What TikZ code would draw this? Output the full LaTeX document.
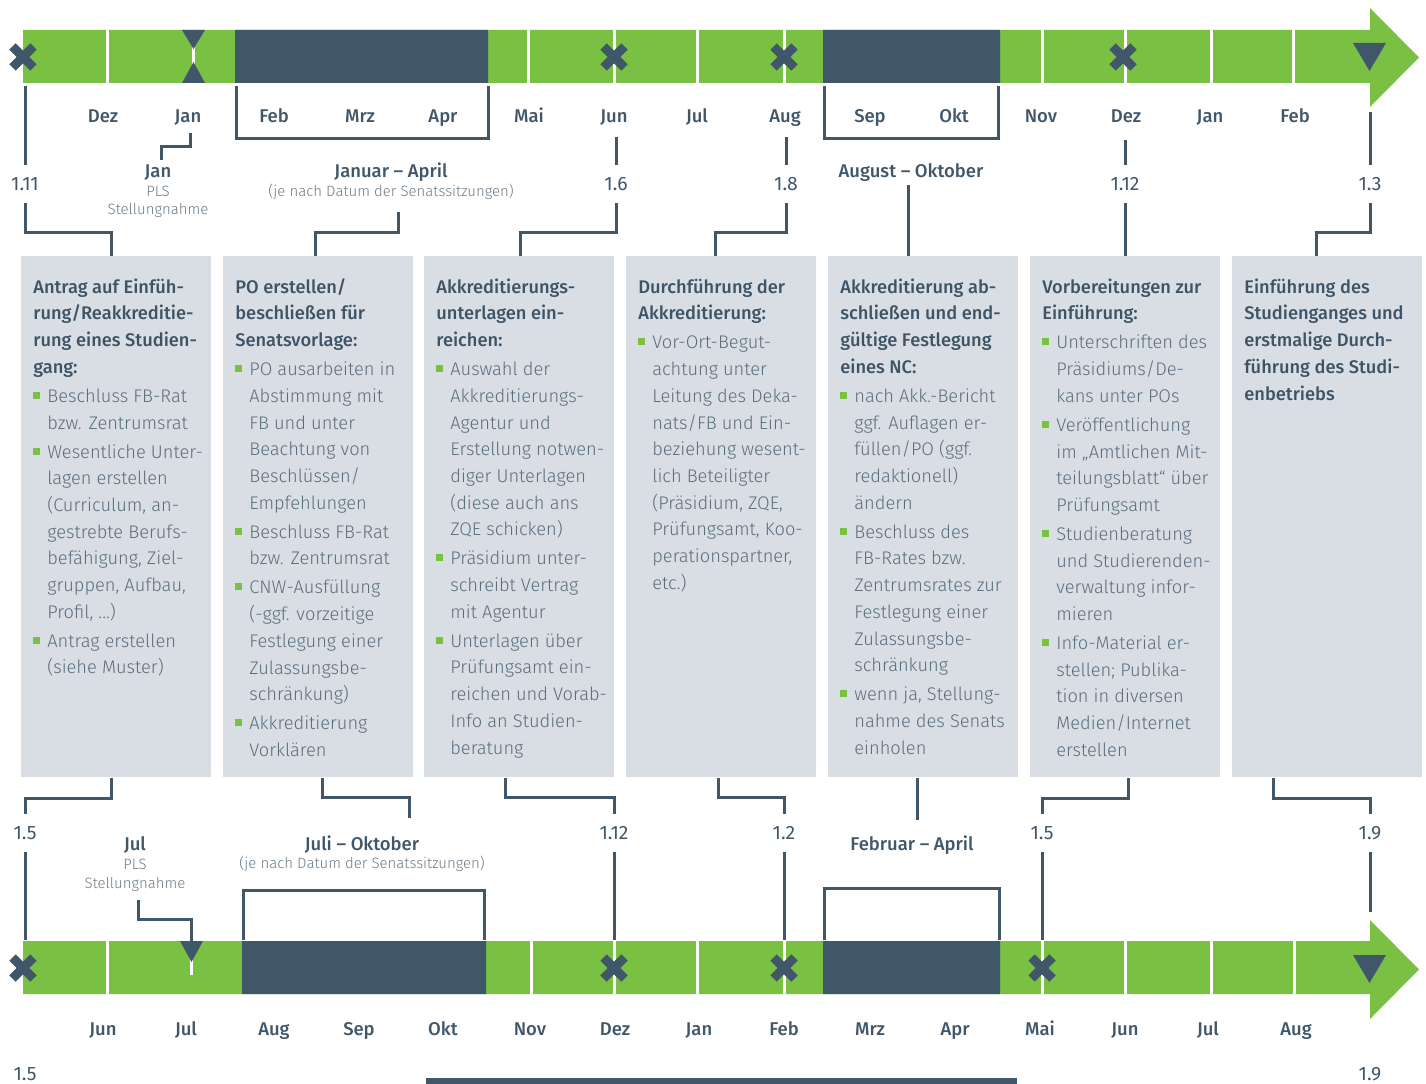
\documentclass[tikz,border=0pt]{standalone}
\usepackage{fontspec}
\setmainfont{Fira Sans Light}[BoldFont={Fira Sans Medium}]
\newfontfamily\regfont{Fira Sans}
\usetikzlibrary{calc}
\definecolor{BarGreen}{HTML}{7AC143}
\definecolor{BarDark}{HTML}{40576A}
\definecolor{BoxFill}{HTML}{D9DEE5}
\definecolor{TitleClr}{HTML}{3E5466}
\definecolor{BodyClr}{HTML}{5B6E7D}
\definecolor{SubClr}{HTML}{6A7B88}
\newdimen\pxu \pxu=0.02cm
\newcommand\hd[1]{{\bfseries\color{TitleClr}#1}}
\newcommand\itm{\makebox[14\pxu][l]{\color{BarGreen}\rule[2pt]{4pt}{4pt}}}
\newcommand\cnt{\hspace*{14\pxu}}
\newcommand\firstline{\rule{0pt}{9pt}}

\begin{document}
\begin{tikzpicture}[x=0.02cm, y=-0.02cm,
  conn/.style={draw=BarDark, line width=3\pxu},
  sep/.style={draw=white, line width=3\pxu},
  month/.style={anchor=base, inner sep=0pt, text=BarDark, font=\fontsize{10.5}{12}\selectfont\bfseries},
  num/.style={inner sep=0pt, minimum height=38\pxu, text=BarDark, font=\regfont\fontsize{11}{12}\selectfont},
  numlow/.style={num, minimum height=0pt, anchor=base},
  rangelbl/.style={anchor=base, inner sep=0pt, text=BarDark, font=\fontsize{10.5}{12}\selectfont\bfseries},
  sublbl/.style={anchor=base, inner sep=0pt, text=SubClr, font=\fontsize{8.5}{10}\selectfont},
  box/.style={fill=BoxFill, anchor=north west, inner sep=0pt, minimum width=190\pxu, minimum height=521\pxu},
  boxtext/.style={anchor=north west, inner sep=0pt, align=left, text=BodyClr, font=\fontsize{10.4}{15.2}\selectfont},
  crossmark/.pic={\draw[BarDark, line width=9\pxu] (-10.5,-10.5) -- (10.5,10.5) (-10.5,10.5) -- (10.5,-10.5);}
]
\useasboundingbox (0,0) rectangle (1426,1084);
\clip (0,0) rectangle (1426,1084);

% Top timeline bar with arrow head.
\fill[BarGreen] (23,30) -- (1370,30) -- (1370,8) -- (1419,57.5) -- (1370,107) -- (1370,83) -- (23,83) -- cycle;
\fill[BarDark] (235,30) rectangle (488,83) (823,30) rectangle (1000,83);
\foreach \x in {107,193.5,528,614,697,784,1042,1125,1211,1293}
  \draw[sep] (\x,30) -- (\x,83);
\fill[BarDark] (182,30) -- (205,30) -- (193.5,49) -- cycle (182,83) -- (205,83) -- (193.5,62) -- cycle;
\fill[BarDark] (1353,43) -- (1386,43) -- (1369.5,71) -- cycle;
\foreach \x in {23,614,784,1123}
  \pic at (\x,57) {crossmark};

% Bottom timeline bar with arrow head.
\fill[BarGreen] (23,941) -- (1370,941) -- (1370,920) -- (1419,969.5) -- (1370,1019) -- (1370,994) -- (23,994) -- cycle;
\fill[BarDark] (242,941) rectangle (486,994) (823,941) rectangle (1000,994);
\foreach \x in {107,531,614,697,784,1042,1125,1211,1294}
  \draw[sep] (\x,941) -- (\x,994);
\draw[sep] (191.5,955) -- (191.5,975);
\fill[BarDark] (180,941) -- (203,941) -- (191.5,962) -- cycle;
\fill[BarDark] (1353,955) -- (1386,955) -- (1369.5,983) -- cycle;
\foreach \x in {23,614,784,1042}
  \pic at (\x,968) {crossmark};

% Month labels.
\foreach \m/\x in {Dez/103,Jan/188,Feb/274,Mrz/360,Apr/443,Mai/529,Jun/614,Jul/697,Aug/785,Sep/870,Okt/954,Nov/1041,Dez/1126,Jan/1210,Feb/1295}
  \node[month] (mt\x) at (\x,122.5) {\m};
\foreach \m/\x in {Jun/103,Jul/186,Aug/274,Sep/359,Okt/443,Nov/530,Dez/615,Jan/699,Feb/784,Mrz/870,Apr/955,Mai/1040,Jun/1125,Jul/1208,Aug/1296}
  \node[month] (mb\x) at (\x,1035) {\m};

% The seven steps.
\node[box] (b1) at (21,256) {};
\node[box] (b2) at (223,256) {};
\node[box] (b3) at (424,256) {};
\node[box] (b4) at (626,256) {};
\node[box] (b5) at (828,256) {};
\node[box] (b6) at (1030,256) {};
\node[box] (b7) at (1232,256) {};

\node[boxtext] (b1t) at (33,277.1) {\firstline\hd{Antrag auf Einfüh-}\\ \hd{rung/Reakkreditie-}\\ \hd{rung eines Studien-}\\ \hd{gang:}\\[1.3pt]
  \itm Beschluss FB-Rat\\ \cnt bzw. Zentrumsrat\\[1.3pt]
  \itm Wesentliche Unter-\\ \cnt lagen erstellen\\ \cnt (Curriculum, an-\\ \cnt gestrebte Berufs-\\ \cnt befähigung, Ziel-\\ \cnt gruppen, Aufbau,\\ \cnt Profil, ...)\\[1.3pt]
  \itm Antrag erstellen\\ \cnt (siehe Muster)};
\node[boxtext] (b2t) at (235,277.1) {\firstline\hd{PO erstellen/}\\ \hd{beschließen für}\\ \hd{Senatsvorlage:}\\[1.3pt]
  \itm PO ausarbeiten in\\ \cnt Abstimmung mit\\ \cnt FB und unter\\ \cnt Beachtung von\\ \cnt Beschlüssen/\\ \cnt Empfehlungen\\[1.3pt]
  \itm Beschluss FB-Rat\\ \cnt bzw. Zentrumsrat\\[1.3pt]
  \itm CNW-Ausfüllung\\ \cnt (-ggf. vorzeitige\\ \cnt Festlegung einer\\ \cnt Zulassungsbe-\\ \cnt schränkung)\\[1.3pt]
  \itm Akkreditierung\\ \cnt Vorklären};
\node[boxtext] (b3t) at (436,277.1) {\firstline\hd{Akkreditierungs-}\\ \hd{unterlagen ein-}\\ \hd{reichen:}\\[1.3pt]
  \itm Auswahl der\\ \cnt Akkreditierungs-\\ \cnt Agentur und\\ \cnt Erstellung notwen-\\ \cnt diger Unterlagen\\ \cnt (diese auch ans\\ \cnt ZQE schicken)\\[1.3pt]
  \itm Präsidium unter-\\ \cnt schreibt Vertrag\\ \cnt mit Agentur\\[1.3pt]
  \itm Unterlagen über\\ \cnt Prüfungsamt ein-\\ \cnt reichen und Vorab-\\ \cnt Info an Studien-\\ \cnt beratung};
\node[boxtext] (b4t) at (638,277.1) {\firstline\hd{Durchführung der}\\ \hd{Akkreditierung:}\\[1.3pt]
  \itm Vor-Ort-Begut-\\ \cnt achtung unter\\ \cnt Leitung des Deka-\\ \cnt nats/FB und Ein-\\ \cnt beziehung wesent-\\ \cnt lich Beteiligter\\ \cnt (Präsidium, ZQE,\\ \cnt Prüfungsamt, Koo-\\ \cnt perationspartner,\\ \cnt etc.)};
\node[boxtext] (b5t) at (840,277.1) {\firstline\hd{Akkreditierung ab-}\\ \hd{schließen und end-}\\ \hd{gültige Festlegung}\\ \hd{eines NC:}\\[1.3pt]
  \itm nach Akk.-Bericht\\ \cnt ggf. Auflagen er-\\ \cnt füllen/PO (ggf.\\ \cnt redaktionell)\\ \cnt ändern\\[1.3pt]
  \itm Beschluss des\\ \cnt FB-Rates bzw.\\ \cnt Zentrumsrates zur\\ \cnt Festlegung einer\\ \cnt Zulassungsbe-\\ \cnt schränkung\\[1.3pt]
  \itm wenn ja, Stellung-\\ \cnt nahme des Senats\\ \cnt einholen};
\node[boxtext] (b6t) at (1042,277.1) {\firstline\hd{Vorbereitungen zur}\\ \hd{Einführung:}\\[1.3pt]
  \itm Unterschriften des\\ \cnt Präsidiums/De-\\ \cnt kans unter POs\\[1.3pt]
  \itm Veröffentlichung\\ \cnt im „Amtlichen Mit-\\ \cnt teilungsblatt“ über\\ \cnt Prüfungsamt\\[1.3pt]
  \itm Studienberatung\\ \cnt und Studierenden-\\ \cnt verwaltung infor-\\ \cnt mieren\\[1.3pt]
  \itm Info-Material er-\\ \cnt stellen; Publika-\\ \cnt tion in diversen\\ \cnt Medien/Internet\\ \cnt erstellen};
\node[boxtext] (b7t) at (1244,277.1) {\firstline\hd{Einführung des}\\ \hd{Studienganges und}\\ \hd{erstmalige Durch-}\\ \hd{führung des Studi-}\\ \hd{enbetriebs}};

% Dates above the steps.
\coordinate (tbar) at (0,86);
\coordinate (bbar) at (0,940);
\node[num] (t111) at (25,184) {1.11};
\node[num] (t16) at (616,184) {1.6};
\node[num] (t18) at (786,184) {1.8};
\node[num] (t112) at (1125,184) {1.12};
\node[num] (t13) at (1370,184) {1.3};
\node[rangelbl] (tjan) at (158,178) {Jan};
\node[sublbl] (tpls) at (158,196.5) {PLS};
\node[sublbl] (tstn) at (158,215) {Stellungnahme};
\node[rangelbl] (tjapr) at (391,178) {Januar – April};
\node[sublbl] (tsen) at (391,196.5) {(je nach Datum der Senatssitzungen)};
\node[rangelbl] (tauok) at (911,178) {August – Oktober};

\coordinate (j1) at (111,233);
\coordinate (j2) at (315,233);
\coordinate (j3) at (520,233);
\coordinate (j4) at (715,233);
\coordinate (j7) at (1316,233);
\coordinate (s2) at (398,212);
\coordinate (s5) at (908,185);
\coordinate (p1) at (190,133);
\coordinate (p2) at (161,160);

\draw[conn] (t111.north |- tbar) -- (t111.north);
\draw[conn] (t111.south) |- (j1) -- (j1 |- b1.north);
\draw[conn] (p1) -- ++(0,14) -| (p2);
\draw[conn] (236,86) |- (488,139) -- (488,86);
\draw[conn] (s2) |- (j2) -- (j2 |- b2.north);
\draw[conn] (t16.north) -- ++(0,-28);
\draw[conn] (t16.south) |- (j3) -- (j3 |- b3.north);
\draw[conn] (t18.north) -- ++(0,-28);
\draw[conn] (t18.south) |- (j4) -- (j4 |- b4.north);
\draw[conn] (824,86) |- (998,139) -- (998,86);
\draw[conn] (s5) -- (s5 |- b5.north);
\draw[conn] (t112.north) -- ++(0,-25);
\draw[conn] (t112.south) -- (t112.south |- b6.north);
\draw[conn] (t13.north) -- ++(0,-53);
\draw[conn] (t13.south) |- (j7) -- (j7 |- b7.north);

% Dates below the steps.
\node[num] (u15a) at (25,833) {1.5};
\node[num] (u112) at (614,833) {1.12};
\node[num] (u12) at (784,833) {1.2};
\node[num] (u15b) at (1042,833) {1.5};
\node[num] (u19) at (1370,833) {1.9};
\node[rangelbl] (bjul) at (135,850) {Jul};
\node[sublbl] (bpls) at (135,869) {PLS};
\node[sublbl] (bstn) at (135,888) {Stellungnahme};
\node[rangelbl] (bjuok) at (362,850) {Juli – Oktober};
\node[sublbl] (bsen) at (362,868) {(je nach Datum der Senatssitzungen)};
\node[rangelbl] (bfeap) at (912,850) {Februar – April};

\coordinate (k1) at (111,798);
\coordinate (k2) at (322,797);
\coordinate (k3) at (505,797);
\coordinate (k4) at (718,797);
\coordinate (k6) at (1128,798);
\coordinate (k7) at (1273,798);
\coordinate (e2) at (409,818);
\coordinate (e5) at (917,820);
\coordinate (q1) at (138,900);
\coordinate (q2) at (191.5,941);

\draw[conn] (k1 |- b1.south) -- (k1) -| (u15a.north);
\draw[conn] (u15a.south) -- (u15a.south |- bbar);
\draw[conn] (k2 |- b2.south) -- (k2) -| (e2);
\draw[conn] (243,940) |- (484,890) -- (484,940);
\draw[conn] (q1) -- ++(0,19) -| (q2);
\draw[conn] (k3 |- b3.south) -- (k3) -| (u112.north);
\draw[conn] (u112.south) -- (u112.south |- bbar);
\draw[conn] (k4 |- b4.south) -- (k4) -| (u12.north);
\draw[conn] (u12.south) -- (u12.south |- bbar);
\draw[conn] (e5 |- b5.south) -- (e5);
\draw[conn] (824,940) |- (999,888) -- (999,940);
\draw[conn] (k6 |- b6.south) -- (k6) -| (u15b.north);
\draw[conn] (u15b.south) -- (u15b.south |- bbar);
\draw[conn] (k7 |- b7.south) -- (k7) -| (u19.north);
\draw[conn] (u19.south) -- ++(0,60);

% Cut-off start of the next row.
\node[numlow] (v15) at (25,1080.5) {1.5};
\node[numlow] (v19) at (1370,1080.5) {1.9};
\fill[BarDark] (426,1078) rectangle (1017,1090);
\end{tikzpicture}
\end{document}
